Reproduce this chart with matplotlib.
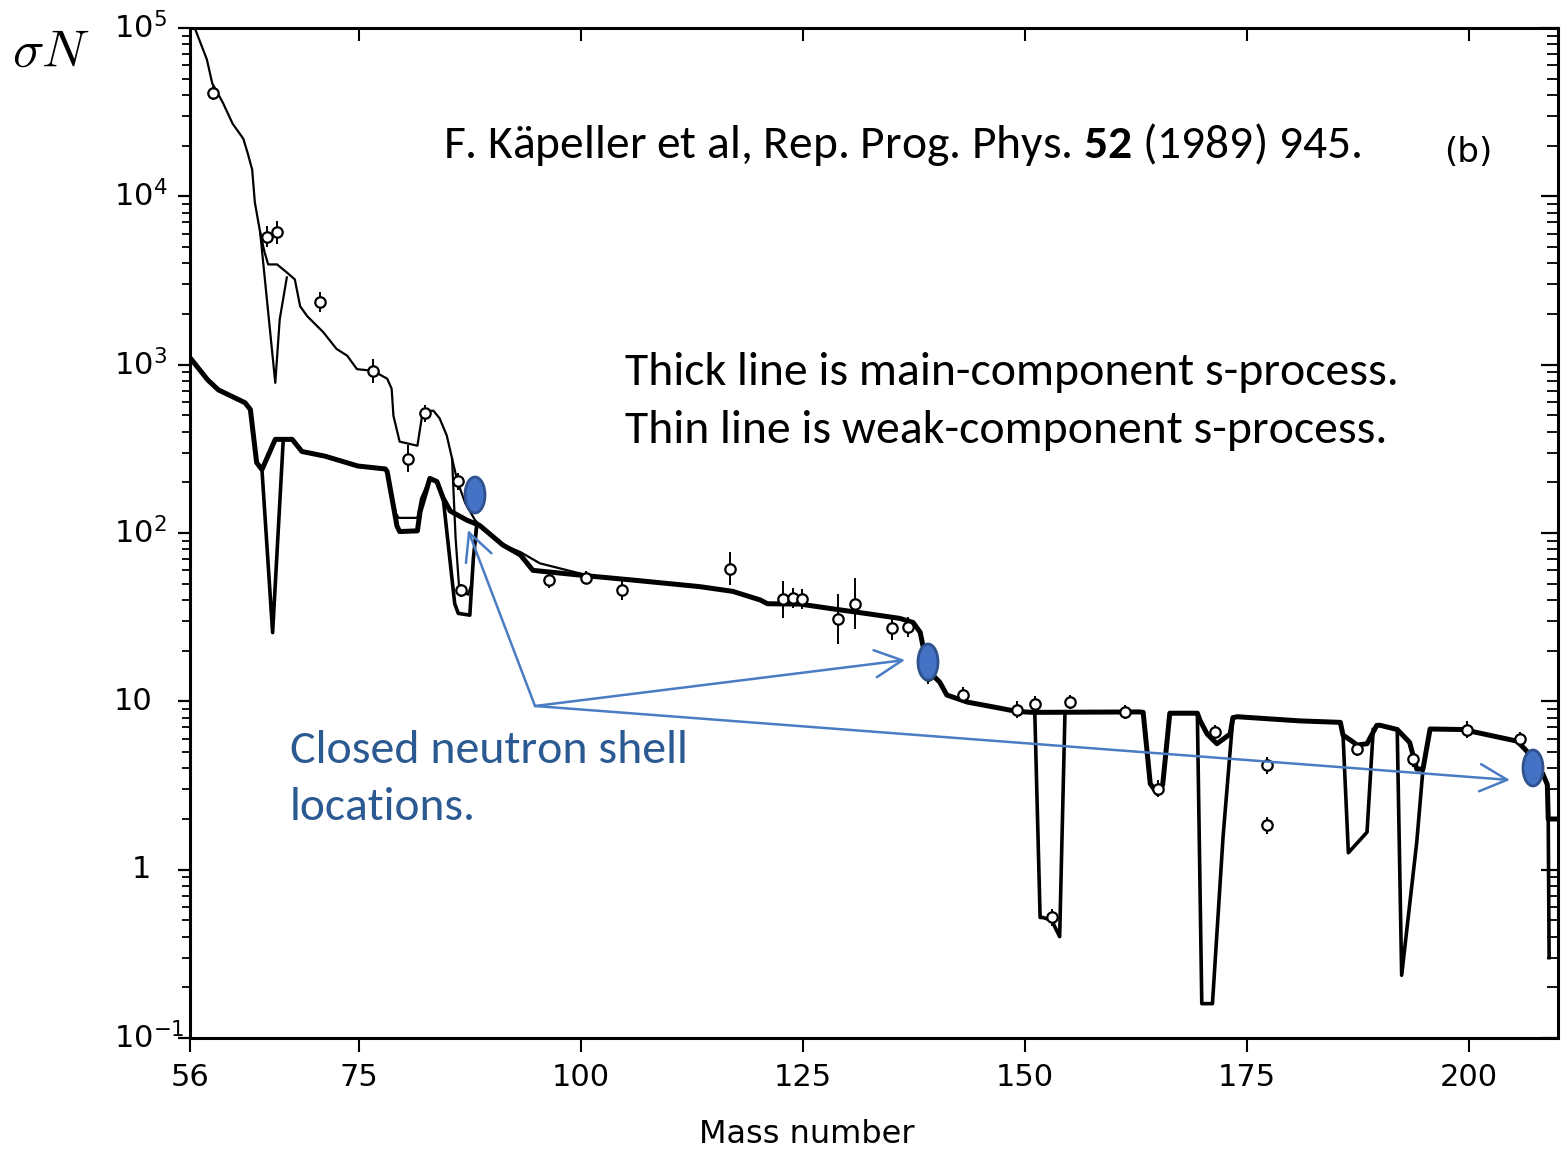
import matplotlib
matplotlib.use("Agg")
import matplotlib.pyplot as plt
from matplotlib.patches import Ellipse, FancyArrowPatch
from matplotlib import font_manager
import matplotlib.transforms as mtransforms
from matplotlib.ticker import LogLocator, NullFormatter

W, H = 1568, 1151

# ------------------------------------------------------------------ data
# thin line (weak + main component), upper curve
thin_A = [56.6, 57.9, 58.5, 59.7, 60.8, 62.0, 62.5, 63.0, 63.3, 63.9,
          64.4, 64.8, 65.8, 66.9, 67.8, 68.4, 69.2, 71.0, 72.5, 73.7,
          74.8, 76.6, 78.2, 78.7, 78.9, 79.6, 81.6, 82.2, 83.4, 84.1,
          84.9, 85.5, 86.1, 87.0, 88.1, 89.8, 91.5, 93.2, 95.4, 100.2]
thin_S = [98000, 65000, 47000, 36000, 27000, 22000, 18000, 14400, 9200, 6100,
          4640, 3940, 3940, 3530, 3210, 2220, 1940, 1560, 1240, 1130,
          940, 920, 825, 720, 497, 349, 330, 526, 533, 480,
          380, 277, 203, 150, 119, 97, 84, 77, 66, 57]
thin_dip64_A = [63.9, 65.6, 66.1, 66.9]
thin_dip64_S = [6100, 780, 1860, 3300]
thin_dip86_A = [85.5, 85.9, 86.3, 87.3, 87.7, 88.2]
thin_dip86_S = [277, 93, 47, 43, 50, 112]
thin_box80_A = [78.2, 79.2, 79.5, 81.6, 82.0, 83.0]
thin_box80_S = [231, 130, 123, 123, 160, 211]

# thick line (main component)
main_A = [56.0, 58.0, 59.2, 62.2, 62.8, 63.5, 64.1, 65.6, 66.4, 67.5,
          68.6, 71.2, 74.9, 78.0, 78.2, 79.3, 79.6, 81.6, 81.9, 83.0,
          83.8, 84.5, 85.3, 87.2, 88.6, 91.2, 93.2, 94.6, 100.2, 105.9,
          113.4, 117.1, 120.2, 121.0, 124.7, 128.4, 132.2, 135.9, 137.4, 138.2,
          138.5, 139.0, 139.6, 140.4, 141.2, 143.5, 147.2, 149.1, 150.9, 162.9,
          163.3, 164.1, 164.9, 165.5, 166.3, 169.4, 169.7, 170.5, 171.6, 173.1,
          173.4, 173.9, 181.0, 185.5, 185.8, 186.6, 187.4, 188.5, 189.6, 190.0,
          191.9, 193.3, 194.1, 194.8, 195.6, 199.3, 205.4, 206.5, 208.3, 208.8,
          208.9, 209.7]
main_S = [1100, 811, 708, 594, 541, 262, 238, 360, 360, 360,
          305, 286, 250, 240, 231, 110, 102, 103, 134, 211,
          202, 161, 135, 119, 111, 85, 74, 60, 56, 52.5,
          48, 45, 40, 38, 37.8, 35.4, 33.2, 31.1, 29.4, 25.7,
          21.5, 17.1, 14.3, 13.0, 10.9, 9.9, 9.1, 8.7, 8.6, 8.65,
          8.6, 3.24, 2.83, 3.2, 8.5, 8.5, 7.7, 6.4, 5.6, 6.4,
          8.0, 8.1, 7.65, 7.5, 6.3, 5.9, 5.5, 5.6, 7.2, 7.2,
          6.8, 5.7, 3.96, 3.96, 6.85, 6.8, 5.8, 5.05, 3.7, 3.2,
          2.0, 2.0]
dip64_A = [64.1, 65.3, 66.5]
dip64_S = [238, 25.6, 360]
dip87_A = [84.5, 85.8, 86.2, 87.5, 87.9, 88.3]
dip87_S = [161, 38, 33.3, 32.5, 71, 112]
dip152_A = [151.1, 151.7, 152.0, 153.0, 153.9, 154.5]
dip152_S = [8.6, 0.52, 0.52, 0.50, 0.40, 8.6]
dip170_A = [169.4, 169.9, 171.1, 172.3, 173.4]
dip170_S = [8.5, 0.16, 0.16, 1.58, 8.0]
dip186_A = [185.8, 186.4, 188.5, 189.2]
dip186_S = [6.3, 1.26, 1.67, 6.8]
dip192_A = [191.9, 192.4, 194.1, 194.8]
dip192_S = [6.8, 0.236, 1.46, 3.96]
dip209_A = [208.9, 209.0]
dip209_S = [2.0, 0.30]

# measured sigma*N values with error bars (error in dex)
pts_A = [58.6, 64.7, 65.8, 70.6, 76.6, 80.5, 82.5, 86.2, 86.5, 96.4,
         100.6, 104.6, 116.8, 122.8, 123.9, 124.9, 129.0, 130.9, 135.0, 136.8,
         139.1, 143.0, 149.1, 151.1, 153.0, 155.1, 161.3, 165.0, 171.4, 177.2,
         177.2, 187.4, 193.7, 199.8, 205.7]
pts_S = [41000, 5770, 6110, 2350, 920, 277, 513, 203, 45.6, 52.8,
         54.3, 45.7, 61.5, 40.5, 41, 40.5, 30.9, 38, 27.1, 27.5,
         14.3, 10.9, 8.9, 9.6, 0.52, 9.9, 8.65, 3.03, 6.6, 4.18,
         1.84, 5.18, 4.54, 6.78, 6.0]
pts_err = [0.04, 0.06, 0.07, 0.06, 0.07, 0.08, 0.05, 0.05, 0.04, 0.05,
           0.04, 0.06, 0.10, 0.11, 0.06, 0.06, 0.15, 0.15, 0.07, 0.06,
           0.05, 0.05, 0.05, 0.05, 0.05, 0.04, 0.04, 0.05, 0.04, 0.05,
           0.05, 0.04, 0.05, 0.05, 0.04]

xtick_vals = [56, 75, 100, 125, 150, 175, 200]
xtick_text = ["56", "75", "100", "125", "150", "175", "200"]
ytick_vals = [1e5, 1e4, 1e3, 1e2, 10, 1, 0.1]
ytick_text = [r"$10^{5}$", r"$10^{4}$", r"$10^{3}$", r"$10^{2}$", "10", "1", r"$10^{-1}$"]

# ------------------------------------------------------------------ fonts
def pick_font(cands):
    for c in cands:
        try:
            font_manager.findfont(font_manager.FontProperties(family=c),
                                  fallback_to_default=False)
            return c
        except Exception:
            pass
    return "DejaVu Sans"

ann_font = pick_font(["Carlito", "Lato", "Open Sans"])
tick_font = "DejaVu Sans"
plt.rcParams["mathtext.fontset"] = "custom"
plt.rcParams["mathtext.rm"] = ann_font
plt.rcParams["mathtext.bf"] = ann_font + ":bold"
plt.rcParams["mathtext.it"] = ann_font + ":italic"

# ------------------------------------------------------------------ figure
fig = plt.figure(figsize=(W / 100, H / 100), dpi=100)
ax = fig.add_axes([190 / W, 1 - 1038 / H, 1368 / W, 1010 / H])
ax.set_yscale("log")
ax.set_xlim(56, 210)
ax.set_ylim(0.1, 1e5)

thin_kw = dict(color="black", lw=1.6, solid_joinstyle="round")
ax.plot(thin_A, thin_S, **thin_kw)
ax.plot(thin_dip64_A, thin_dip64_S, **thin_kw)
ax.plot(thin_dip86_A, thin_dip86_S, **thin_kw)
ax.plot(thin_box80_A, thin_box80_S, **thin_kw)

ax.plot(main_A, main_S, color="black", lw=3.6, solid_joinstyle="round")
dip_kw = dict(color="black", lw=2.6, solid_joinstyle="round")
for a, s in [(dip64_A, dip64_S), (dip87_A, dip87_S), (dip152_A, dip152_S),
             (dip170_A, dip170_S), (dip186_A, dip186_S), (dip192_A, dip192_S),
             (dip209_A, dip209_S)]:
    ax.plot(a, s, **dip_kw)

lo = [s * (1 - 10 ** (-e)) for s, e in zip(pts_S, pts_err)]
hi = [s * (10 ** e - 1) for s, e in zip(pts_S, pts_err)]
ax.errorbar(pts_A, pts_S, yerr=[lo, hi], fmt="o", ms=7.5, mfc="white",
            mec="black", mew=1.6, ecolor="black", elinewidth=1.4, capsize=0,
            zorder=5)

for sp in ax.spines.values():
    sp.set_linewidth(2.2)

# x axis
ax.set_xticks(xtick_vals)
ax.set_xticklabels(xtick_text, fontfamily=tick_font)
ax.tick_params(axis="x", direction="out", length=10, width=1.5,
               labelsize=22, pad=8)
ax.set_xlabel("Mass number", fontsize=23, fontfamily=tick_font)
ax.xaxis.set_label_coords(0.451, -0.08)
top = ax.secondary_xaxis("top")
top.set_xticks(xtick_vals[1:])
top.tick_params(direction="in", length=9, width=1.5, labeltop=False)

# y axis
ax.yaxis.set_major_locator(LogLocator(base=10, numticks=20))
ax.yaxis.set_minor_locator(LogLocator(base=10, subs=range(2, 10), numticks=100))
ax.yaxis.set_minor_formatter(NullFormatter())
ax.tick_params(axis="y", which="major", direction="out", length=9, width=1.6,
               labelleft=False)
ax.tick_params(axis="y", which="minor", direction="out", length=6, width=1.3)
right = ax.secondary_yaxis("right")
right.yaxis.set_major_locator(LogLocator(base=10, numticks=20))
right.yaxis.set_minor_locator(LogLocator(base=10, subs=range(2, 10), numticks=100))
right.tick_params(which="major", direction="in", length=12, width=1.6,
                  labelright=False)
right.tick_params(which="minor", direction="in", length=8, width=1.3,
                  labelright=False)

ytr = mtransforms.blended_transform_factory(fig.transFigure, ax.transData)
for v, t in zip(ytick_vals, ytick_text):
    xpx = 132 if t == "1" else 114
    fig.text(xpx / W, v, t, transform=ytr, ha="left", va="center",
             fontsize=22, fontfamily=tick_font, math_fontfamily="dejavusans")

# ------------------------------------------------------------------ annotations
renderer = fig.canvas.get_renderer()

def fit_text(x_px, y_px, s, target_w, **kw):
    t = fig.text(x_px / W, 1 - y_px / H, s, fontsize=20, **kw)
    bb = t.get_window_extent(renderer)
    t.set_fontsize(20 * target_w / bb.width)
    return t

fit_text(443, 158, r"F. Käpeller et al, Rep. Prog. Phys. $\mathbf{52}$ (1989) 945.",
         919, ha="left", va="baseline", fontfamily=ann_font, color="black")
fit_text(625, 385, "Thick line is main-component s-process.", 773,
         ha="left", va="baseline", fontfamily=ann_font, color="black")
fit_text(625, 443, "Thin line is weak-component s-process.", 763,
         ha="left", va="baseline", fontfamily=ann_font, color="black")
blue_txt = "#2B5A92"
fit_text(290, 763, "Closed neutron shell", 398, ha="left", va="baseline",
         fontfamily=ann_font, color=blue_txt)
fit_text(290, 820, "locations.", 186, ha="left", va="baseline",
         fontfamily=ann_font, color=blue_txt)
fit_text(12, 52, r"$\sigma N$", 80, ha="left", va="center",
         math_fontfamily="cm", color="black")
fit_text(1444, 153, "(b)", 48, ha="left", va="center",
         fontfamily=tick_font, color="black")

arrow_col = "#4A7CC4"
apex = (535, 706)
for tip in [(468, 530), (905, 660), (1510, 780)]:
    fig.add_artist(FancyArrowPatch((apex[0] / W, 1 - apex[1] / H),
                                   (tip[0] / W, 1 - tip[1] / H),
                                   transform=fig.transFigure,
                                   arrowstyle="->,head_length=0.7,head_width=0.35",
                                   mutation_scale=28, color=arrow_col, lw=1.8,
                                   shrinkA=0, shrinkB=0))

for cx, cy in [(475, 495), (928, 662), (1533, 768)]:
    fig.add_artist(Ellipse((cx / W, 1 - cy / H), 20 / W, 36 / H,
                           transform=fig.transFigure, facecolor="#4472C4",
                           edgecolor="#2F528F", lw=2, zorder=10))

fig.savefig("out.png", dpi=100)
